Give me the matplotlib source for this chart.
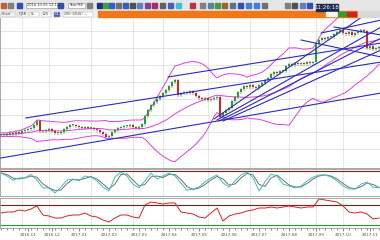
import numpy as np
import pandas as pd
import matplotlib
matplotlib.use('Agg')
import matplotlib.pyplot as plt
from matplotlib.patches import Rectangle

# === DATA ===
close = [33, 34, 33, 35, 34, 36, 35, 37, 38, 39,
         40, 43, 47, 37, 37, 38, 39, 37, 35, 35,
         36, 39, 41, 43, 43, 42, 41, 40, 41, 40,
         40, 39, 38, 36, 34, 31, 32, 36, 38, 40,
         41, 42, 42, 43, 41, 40, 41, 44, 52, 58,
         63, 66, 69, 72, 75, 78, 82, 86, 88, 73,
         75, 76, 75, 77, 75, 72, 70, 69, 70, 68,
         69, 70, 71, 51, 55, 58, 60, 67, 71, 76,
         79, 82, 81, 83, 81, 80, 83, 85, 88, 90,
         94, 96, 95, 97, 97, 102, 104, 103, 105, 104,
         105, 104, 106, 105, 106, 124, 128, 130, 129, 131,
         131, 134, 136, 138, 135, 134, 136, 133, 135, 137,
         138, 137, 120, 122, 119, 120, 121]

# stochastic %K, one value every 2 bars
stoch_k = [85, 74, 59, 67, 67, 80, 59, 30, 30, 11,
           33, 59, 63, 56, 74, 70, 56, 33, 19, 70,
           89, 74, 44, 30, 56, 85, 63, 74, 85, 74,
           48, 22, 26, 33, 52, 67, 78, 48, 33, 56,
           78, 89, 67, 19, 52, 81, 74, 44, 37, 30,
           37, 56, 70, 78, 78, 70, 56, 37, 26, 26,
           44, 52, 33, 30]

# lower oscillator, one value every 2 bars
osc = [54, 56, 56, 60, 58, 62, 68, 50, 48, 44,
       44, 48, 50, 50, 54, 48, 46, 40, 36, 44,
       50, 50, 46, 44, 70, 76, 74, 72, 74, 74,
       56, 54, 52, 46, 44, 54, 64, 38, 48, 52,
       54, 58, 60, 64, 64, 66, 64, 66, 68, 66,
       64, 66, 66, 82, 80, 78, 76, 68, 56, 54,
       56, 52, 42, 44]

# hand drawn trend lines (bar index, price)
trend_lines = [((8.3, 50), (126.7, 106)),
               ((55.7, 91), (126.7, 125)),
               ((0, 10), (126.7, 75)),
               ((71, 49), (121.7, 154)),
               ((72, 48), (126.7, 141)),
               ((72.7, 47), (126.7, 130)),
               ((74, 47), (126.7, 118)),
               ((100, 128), (126.7, 111)),
               ((106.7, 135), (126.7, 148)),
               ((111, 141), (126.7, 133))]

date_ticks = [9, 17, 26, 36, 46, 56, 66, 76, 86, 96, 105, 114, 123]
date_labels = ['2016.11', '2016.12', '2017.01', '2017.02', '2017.03', '2017.04',
               '2017.05', '2017.06', '2017.07', '2017.08', '2017.09', '2017.10',
               '2017.11']
grid_x = [7, 16, 30, 44, 54, 69, 83, 96, 105, 114]

W, H = 380, 240
fig = plt.figure(figsize=(W / 100, H / 100), dpi=100)
fig.patch.set_facecolor('white')


def box(top, bottom):
    return [0, 1 - bottom / H, 1, (bottom - top) / H]


ax = fig.add_axes(box(17, 168))
ax_st = fig.add_axes(box(169, 196))
ax_rs = fig.add_axes(box(198, 228))

n = len(close)
x = np.arange(n)
for a in (ax, ax_st, ax_rs):
    a.set_xlim(-0.3, n - 0.7)
    a.set_yticks([])
    a.tick_params(length=0, labelbottom=False)
    for sp in a.spines.values():
        sp.set_color('#9a9a9a')
        sp.set_linewidth(0.6)
    for gx in grid_x:
        a.axvline(gx, color='#dcdcdc', lw=0.5, zorder=0)

# === PRICE PANEL ===
ax.set_ylim(0, 151)
for gy in np.arange(19, 151, 16.8):
    ax.axhline(gy, color='#dcdcdc', lw=0.5, zorder=0)

c = np.array(close, dtype=float)
o = np.r_[c[0], c[:-1]]
cols = np.where(c >= o, '#1fa81f', '#d42424')
ax.vlines(x, np.minimum(o, c) - 1.5, np.maximum(o, c) + 1.5, colors='#404040', lw=0.35, zorder=3)
ax.bar(x, np.maximum(np.abs(c - o), 0.7), bottom=np.minimum(o, c), width=0.42,
       color=cols, lw=0, zorder=3)

s = pd.Series(c)
mid = s.rolling(24, min_periods=1).mean()
sd = s.rolling(24, min_periods=2).std().bfill()
for band in (mid + 2.6 * sd, mid, mid - 2.6 * sd):
    ax.plot(x, band, color='#e040e0', lw=0.7, zorder=2)

for (x0, y0), (x1, y1) in trend_lines:
    ax.plot([x0, x1], [y0, y1], color='#2a2ac8', lw=0.8, zorder=4)

# === STOCHASTIC PANEL ===
xs = np.arange(len(stoch_k)) * 2
k = pd.Series(stoch_k, dtype=float)
ax_st.set_ylim(0, 100)
ax_st.axhline(93, color='#8b1a1a', lw=0.8)
ax_st.plot(xs, k.rolling(2, min_periods=1).mean(), color='#707070', lw=0.7)
ax_st.plot(xs, k, color='#3cc0c0', lw=0.7)

# === LOWER OSCILLATOR ===
ax_rs.set_ylim(24, 84)
ax_rs.axhline(70, color='#8b1a1a', lw=0.8)
ax_rs.axhline(30, color='#2e9a2e', lw=0.8)
ax_rs.plot(xs, osc, color='#e02020', lw=0.7)

ax_rs.set_xticks(date_ticks)
ax_rs.set_xticklabels(date_labels)
ax_rs.set_xticks(np.arange(0, n, 2), minor=True)
ax_rs.tick_params(axis='x', which='major', length=2, width=0.4, color='#333333',
                  labelbottom=True, labelsize=3, pad=1.5, labelcolor='#505050')
ax_rs.tick_params(axis='x', which='minor', length=1.2, width=0.4, color='#333333')

# === TOOLBAR (window chrome) ===
ui = fig.add_axes([0, 0, 1, 1])
ui.set_xlim(0, W)
ui.set_ylim(H, 0)
ui.axis('off')
ui.add_patch(Rectangle((0, 0), W, 11, color='#e6e6e6'))
ui.add_patch(Rectangle((0, 11), 98, 6, color='#f2f2f2'))
ui.add_patch(Rectangle((98, 11), 260, 6, color='#f07818'))
ui.add_patch(Rectangle((358, 11), 22, 6, color='#d8d8d8'))

icons = [(1, '#c06040'), (8, '#808080'), (17, '#3050b0'), (58, '#3050b0'),
         (87, '#808080'), (97, '#203080'), (103, '#40a040'), (109, '#3060c0'),
         (116, '#707070'), (123, '#3060c0'), (130, '#505050'), (137, '#6080c0'),
         (145, '#8040a0'), (152, '#a03060'), (160, '#606060'), (168, '#4060c0'),
         (176, '#40c0d0'), (190, '#c03040'), (200, '#808080'), (208, '#6080a0'),
         (215, '#40a040'), (222, '#a06030'), (230, '#607090'), (238, '#3050c0'),
         (246, '#4080e0'), (254, '#4080e0'), (262, '#707070'), (285, '#808080'),
         (292, '#505050'), (300, '#6080c0'), (307, '#3050c0')]
for ix, col in icons:
    ui.add_patch(Rectangle((ix, 2.5), 5, 5, color=col))

for bx, bw, txt in [(26, 31, '2016.10.05 12:12'), (68, 17, 'Year.M8')]:
    ui.add_patch(Rectangle((bx, 2.5), bw, 5, facecolor='white', edgecolor='#909090', lw=0.4))
    ui.text(bx + 1, 5.2, txt, fontsize=2.6, va='center', color='#333333')

ui.add_patch(Rectangle((316, 3.5), 22, 7, color='#1c2a4e'))
ui.text(327, 7.2, '11:26:18', fontsize=4, color='white', ha='center', va='center')

for tx, tw, txt, col in [(1, 15, 'Chart', '#f2f2f2'), (18, 10, 'DJ5B', '#ffffff'),
                         (30, 9, 'SL', '#ffffff'), (42, 9, 'L25', '#ffffff'),
                         (54, 6, 'D1', '#4060c0'), (63, 30, '200 (2016) ...', '#ffffff')]:
    ui.add_patch(Rectangle((tx, 11.5), tw, 5, facecolor=col, edgecolor='#a0a0a0', lw=0.3))
    ui.text(tx + 0.8, 14, txt, fontsize=2.4, va='center',
            color='white' if col == '#4060c0' else '#333333')

ui.add_patch(Rectangle((326, 11.8), 11, 4.4, color='#f4f4f4'))
ui.add_patch(Rectangle((338, 11.8), 8, 4.4, color='#30a030'))
ui.add_patch(Rectangle((347, 11.8), 9, 4.4, color='#d02020'))

fig.savefig('out.png', dpi=100)
